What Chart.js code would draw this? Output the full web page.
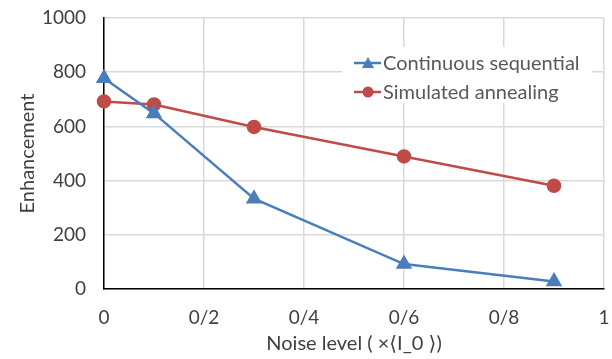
<!DOCTYPE html>
<html>
<head>
<meta charset="utf-8">
<script src="https://cdn.jsdelivr.net/npm/chart.js@4/dist/chart.umd.min.js"></script>
<style>
  html, body { margin: 0; padding: 0; background: #fff; }
  #wrap { width: 612px; height: 359px; }
</style>
</head>
<body>
<div id="wrap"><canvas id="chart" width="612" height="359"></canvas></div>
<script>
// noise levels and enhancement per method
const noiseLevels = [0, 0.1, 0.3, 0.6, 0.9]
const continuousSeq = [778, 648, 333, 92, 28]
const simAnnealing = [692, 681, 598, 489, 381]
const xTickLabels = ["0", "0/2", "0/4", "0/6", "0/8", "1"]
const yTicks = [0, 200, 400, 600, 800, 1000]

const FONT = "Lato, 'Open Sans', 'DejaVu Sans', sans-serif"
const BLUE = "#4a7ebb"
const RED = "#be4b48"

// legend drawn inside the plot on a white box
const innerLegend = {
    id: "innerLegend",
    beforeDatasetsDraw(chart) {
        const ctx = chart.ctx
        const x0 = 342, y0 = 47
        ctx.save()
        ctx.fillStyle = "#fff"
        ctx.fillRect(x0, y0, 250, 56)
        ctx.font = "20px " + FONT
        ctx.textBaseline = "middle"
        chart.data.datasets.forEach((ds, i) => {
            const y = 63 + i * 29
            ctx.strokeStyle = ds.borderColor
            ctx.lineWidth = 2.5
            ctx.beginPath()
            ctx.moveTo(354, y)
            ctx.lineTo(381, y)
            ctx.stroke()
            ctx.fillStyle = ds.borderColor
            ctx.beginPath()
            if (ds.pointStyle === "triangle") {
                ctx.moveTo(368, y - 6)
                ctx.lineTo(374, y + 5)
                ctx.lineTo(362, y + 5)
                ctx.closePath()
            } else {
                ctx.arc(368, y, 5.5, 0, Math.PI * 2)
            }
            ctx.fill()
            ctx.fillStyle = "#595959"
            ctx.fillText(ds.label, 383, y + 1)
        })
        ctx.restore()
    },
}

new Chart(document.getElementById("chart"), {
    type: "line",
    data: {
        datasets: [
            {
                label: "Continuous sequential",
                data: noiseLevels.map((x, i) => ({ x: x, y: continuousSeq[i] })),
                borderColor: BLUE,
                backgroundColor: BLUE,
                borderWidth: 2.5,
                pointStyle: "triangle",
                pointRadius: 7,
                pointHoverRadius: 7,
                tension: 0,
                clip: false,
            },
            {
                label: "Simulated annealing",
                data: noiseLevels.map((x, i) => ({ x: x, y: simAnnealing[i] })),
                borderColor: RED,
                backgroundColor: RED,
                borderWidth: 2.5,
                pointStyle: "circle",
                pointRadius: 6,
                pointHoverRadius: 6,
                tension: 0,
                clip: false,
            },
        ],
    },
    options: {
        responsive: false,
        animation: false,
        layout: { autoPadding: false, padding: { top: 18, right: 8, left: 0, bottom: 0 } },
        plugins: {
            legend: { display: false },
            tooltip: { enabled: false },
        },
        scales: {
            x: {
                type: "linear",
                min: 0,
                max: 1,
                afterBuildTicks: (scale) => {
                    scale.ticks = xTickLabels.map((t, i) => ({ value: i * 0.2 }))
                },
                afterFit: (scale) => {
                    scale.height = 70
                    scale.paddingLeft = 6
                    scale.paddingRight = 6
                },
                ticks: {
                    padding: 17,
                    color: "#404040",
                    font: { family: FONT, size: 19 },
                    callback: (value, index) => xTickLabels[index],
                    maxRotation: 0,
                },
                grid: { color: "#d9d9d9", lineWidth: 1.5, drawTicks: false },
                border: { color: "#000", width: 1.5 },
                title: {
                    display: true,
                    text: "Noise level ( \u00d7\u27e8I_0 \u27e9)",
                    color: "#404040",
                    font: { family: FONT, size: 20 },
                    padding: { top: 0, bottom: 3 },
                },
            },
            y: {
                min: 0,
                max: 1000,
                afterBuildTicks: (scale) => {
                    scale.ticks = yTicks.map((v) => ({ value: v }))
                },
                afterFit: (scale) => {
                    scale.width = 104
                    scale.paddingTop = 11
                    scale.paddingBottom = 11
                },
                ticks: {
                    padding: 18,
                    color: "#404040",
                    font: { family: FONT, size: 19 },
                    callback: (value) => String(value),
                },
                grid: { color: "#d9d9d9", lineWidth: 1.5, drawTicks: false },
                border: { color: "#000", width: 1.5 },
                title: {
                    display: true,
                    text: "Enhancement",
                    color: "#404040",
                    font: { family: FONT, size: 20 },
                    padding: { top: 16, bottom: 0 },
                },
            },
        },
    },
    plugins: [innerLegend],
})
</script>
</body>
</html>
